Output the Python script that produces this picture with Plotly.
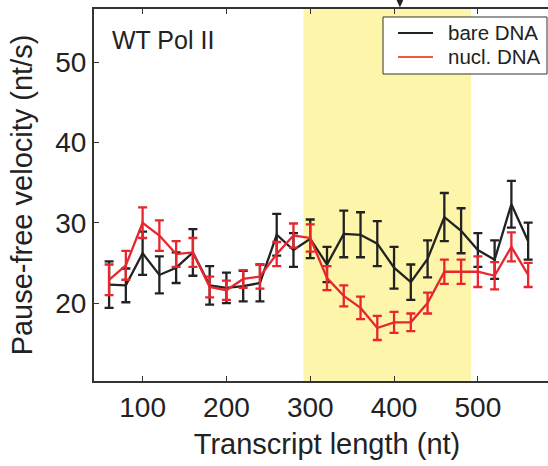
import plotly.graph_objects as go

transcript_nt = [60, 80, 100, 120, 140, 160, 180, 200, 220, 240, 260, 280, 300,
                 320, 340, 360, 380, 400, 420, 440, 460, 480, 500, 520, 540, 560]

bare_vel = [22.3, 22.2, 26.2, 23.5, 24.4, 26.3, 22.2, 21.9, 22.1, 22.5, 28.5, 26.6, 28.0,
            24.8, 28.6, 28.5, 27.4, 24.4, 22.6, 25.5, 30.7, 29.0, 26.6, 25.4, 32.3, 27.7]
bare_err = [2.9, 2.1, 2.7, 2.3, 1.9, 2.9, 2.4, 1.9, 1.9, 2.3, 2.6, 2.1, 2.4,
            2.2, 2.9, 2.8, 2.8, 2.6, 2.2, 2.3, 3.0, 2.8, 2.1, 2.4, 2.9, 2.3]

nucl_vel = [22.9, 24.7, 30.0, 28.4, 26.1, 26.3, 22.0, 21.6, 23.0, 23.3, 26.1, 28.4, 28.1,
            23.1, 20.9, 19.4, 16.9, 17.6, 17.6, 20.0, 23.9, 23.9, 23.9, 23.4, 27.0, 23.5]
nucl_err = [1.9, 1.8, 1.9, 1.9, 1.6, 1.8, 1.3, 1.2, 1.1, 1.5, 1.5, 1.5, 1.7,
            1.5, 1.3, 1.4, 1.5, 1.3, 1.1, 1.3, 1.5, 1.5, 1.9, 1.7, 1.8, 1.5]

series_names = ["bare DNA", "nucl. DNA"]
shade_range = [292, 492]
arrow_nt = 407
label_text = "WT Pol II"

BLACK = "#222222"
RED = "#E8262E"
AX = "#333333"
FONT = "Liberation Sans, Arial, sans-serif"

fig = go.Figure()

fig.add_vrect(x0=shade_range[0], x1=shade_range[1], fillcolor="#FCF5AA",
              line_width=0, layer="below")

for name, vals, errs, col in [(series_names[0], bare_vel, bare_err, BLACK),
                              (series_names[1], nucl_vel, nucl_err, RED)]:
    fig.add_trace(go.Scatter(
        x=transcript_nt, y=vals, mode="lines", name=name, showlegend=False,
        line=dict(color=col, width=2.3), hoverinfo="skip",
        error_y=dict(type="data", array=errs, color=col, thickness=2.3, width=4.5),
    ))

# arrow marker at top
fig.add_shape(type="path", xref="x", yref="paper",
              path=f"M {arrow_nt-4},1.024 L {arrow_nt+4},1.024 L {arrow_nt},1.004 Z",
              fillcolor="#222222", line=dict(width=0))

# legend box drawn manually (plot area spans 466 px wide)
lx0, lx1, ly0, ly1 = 0.6202, 0.9721, 0.8253, 0.9785
fig.add_shape(type="rect", xref="paper", yref="paper", x0=lx0, x1=lx1, y0=ly0, y1=ly1,
              fillcolor="white", line=dict(color=AX, width=1), layer="above")
for i, (name, col) in enumerate(zip(series_names, [BLACK, "#F05A3A"])):
    yy = 0.9355 - i * 0.0645
    fig.add_shape(type="line", xref="paper", yref="paper", x0=0.6524, x1=0.7275,
                  y0=yy, y1=yy, line=dict(color=col, width=2), layer="above")
    fig.add_annotation(text=name, xref="paper", yref="paper", x=0.7554, y=yy,
                       xanchor="left", yanchor="middle", showarrow=False,
                       font=dict(size=20.5, color=BLACK, family=FONT))

fig.add_annotation(text=label_text, xref="paper", yref="paper", x=0.0343, y=0.917,
                   xanchor="left", yanchor="middle", showarrow=False,
                   font=dict(size=25, color=BLACK, family=FONT))

fig.update_layout(
    width=560, height=466,
    margin=dict(l=94, r=0, t=9, b=85),
    plot_bgcolor="white", paper_bgcolor="white",
    font=dict(family=FONT, color=BLACK),
    showlegend=False, hovermode=False,
    xaxis=dict(range=[42, 598], tickvals=[100, 200, 300, 400, 500],
               ticks="inside", ticklen=5, tickwidth=1, tickcolor=AX,
               showline=True, linecolor=AX, linewidth=2, mirror="ticks",
               showgrid=False, zeroline=False, automargin=False,
               tickfont=dict(size=28, color=BLACK),
               title=dict(text="Transcript length (nt)", font=dict(size=29, color=BLACK),
                          standoff=12)),
    yaxis=dict(range=[10.3, 56.6], tickvals=[20, 30, 40, 50],
               ticks="inside", ticklen=5, tickwidth=1, tickcolor=AX,
               showline=True, linecolor=AX, linewidth=2, mirror=False,
               showgrid=False, zeroline=False, automargin=False,
               tickfont=dict(size=28, color=BLACK),
               title=dict(text="Pause-free velocity (nt/s)", font=dict(size=29, color=BLACK),
                          standoff=14)),
)

fig.write_html("out.html", config={"displayModeBar": False},
               post_script="document.body.style.margin='0';document.body.style.overflow='hidden';")
